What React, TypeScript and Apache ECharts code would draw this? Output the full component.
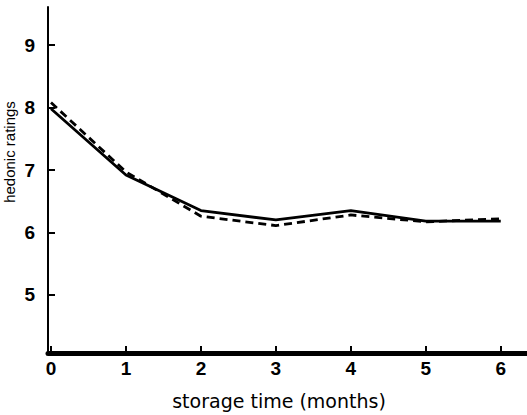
import React, { useEffect, useRef } from "react";
import * as echarts from "echarts";

const months = [0, 1, 2, 3, 4, 5, 6];
const solidRatings = [7.98, 6.92, 6.35, 6.2, 6.35, 6.18, 6.18];
const dashedRatings = [8.08, 6.97, 6.26, 6.11, 6.28, 6.17, 6.22];
const xTickValues = [0, 1, 2, 3, 4, 5, 6];
const yTickValues = [5, 6, 7, 8, 9];
const xAxisTitle = "storage time (months)";
const yAxisTitle = "hedonic ratings";

export default function App() {
  const ref = useRef<HTMLDivElement>(null);
  useEffect(() => {
    if (!ref.current) return;
    const chart = echarts.init(ref.current, null, { renderer: "svg" });
    const font = "Liberation Sans";
    chart.setOption({
      animation: false,
      backgroundColor: "#ffffff",
      grid: { left: 48, right: 0, top: 7, bottom: 62 },
      xAxis: {
        type: "value",
        min: -0.04,
        max: 6.35,
        splitLine: { show: false },
        axisLine: { show: true, onZero: false, lineStyle: { color: "#000", width: 5 } },
        axisTick: { show: true, inside: true, length: 7, lineStyle: { color: "#000", width: 2 }, customValues: xTickValues },
        axisLabel: { color: "#000", fontSize: 19, fontWeight: "bold", fontFamily: font, margin: 6, customValues: xTickValues },
      },
      yAxis: {
        type: "value",
        min: 4.07,
        max: 9.61,
        splitLine: { show: false },
        axisLine: { show: true, onZero: false, lineStyle: { color: "#000", width: 2 } },
        axisTick: { show: true, inside: true, length: 7, lineStyle: { color: "#000", width: 2 }, customValues: yTickValues },
        axisLabel: { color: "#000", fontSize: 19, fontWeight: "bold", fontFamily: font, margin: 13, customValues: yTickValues },
      },
      graphic: [
        {
          type: "text",
          x: 279,
          y: 401,
          style: { text: xAxisTitle, fill: "#000", fontSize: 19, fontFamily: "DejaVu Sans", align: "center", verticalAlign: "middle" },
        },
        {
          type: "text",
          x: 9,
          y: 152,
          rotation: Math.PI / 2,
          style: { text: yAxisTitle, fill: "#000", fontSize: 15, fontFamily: font, align: "center", verticalAlign: "middle" },
        },
      ],
      series: [
        {
          type: "line",
          data: months.map((m, i) => [m, solidRatings[i]]),
          symbol: "none",
          lineStyle: { color: "#000", width: 2.8, type: "solid" },
        },
        {
          type: "line",
          data: months.map((m, i) => [m, dashedRatings[i]]),
          symbol: "none",
          lineStyle: { color: "#000", width: 2.8, type: [8, 5] },
        },
      ],
    });
    return () => chart.dispose();
  }, []);
  return (
    <div
      ref={ref}
      style={{ position: "fixed", left: 0, top: 0, width: 527, height: 415, background: "#fff" }}
    />
  );
}
